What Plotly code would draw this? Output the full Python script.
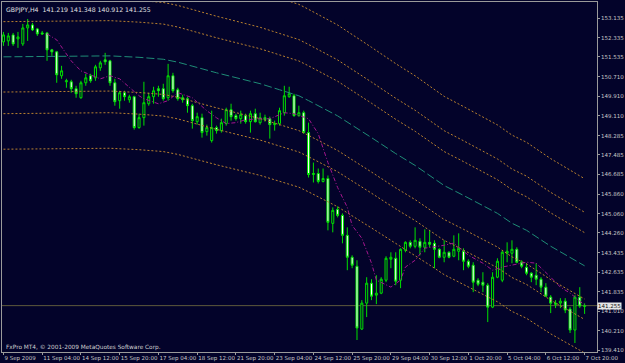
import plotly.graph_objects as go

# ---------------- data (GBPJPY H4, 9 Sep 2009 20:00 .. 7 Oct 2009 20:00) ----------------
BAR_INDEX = list(range(121))
OPEN = [152.158, 152.199, 152.446, 152.282, 152.075, 152.735, 152.859, 152.694, 152.529, 152.529,
        151.828, 151.746, 150.757, 150.509, 150.509, 150.221, 149.850, 150.468, 150.757, 150.674,
        151.086, 151.416, 151.375, 150.468, 149.726, 150.056, 149.767, 149.891, 148.613, 149.025,
        149.602, 149.891, 150.221, 150.221, 149.850, 150.757, 150.179, 149.850, 149.808, 149.520,
        148.860, 149.025, 148.448, 148.077, 148.613, 148.489, 148.778, 149.355, 149.108, 148.984,
        149.108, 148.860, 149.190, 148.819, 149.025, 148.984, 148.737, 148.778, 149.231, 149.891,
        149.932, 149.108, 149.231, 148.407, 146.676, 146.717, 146.388, 146.511, 144.656, 145.233,
        144.986, 144.161, 143.254, 142.883, 140.287, 141.358, 142.183, 141.688, 141.770, 142.306,
        143.172, 143.213, 142.306, 143.543, 143.872, 143.708, 143.914, 143.667, 143.872, 143.831,
        143.584, 143.254, 143.461, 143.296, 143.502, 143.502, 143.090, 142.925, 142.306, 142.224,
        142.100, 141.193, 142.430, 142.306, 143.419, 143.419, 143.584, 143.048, 142.842, 142.595,
        142.512, 142.348, 142.018, 141.606, 141.358, 141.358, 141.441, 141.111, 140.245, 141.606,
        141.219]
HIGH = [152.570, 152.529, 152.529, 152.570, 152.900, 153.106, 152.941, 152.735, 152.611, 152.570,
        151.869, 151.787, 151.169, 150.633, 150.592, 150.344, 150.550, 150.839, 150.839, 151.210,
        151.375, 151.705, 151.416, 150.633, 150.138, 150.138, 149.973, 149.932, 149.190, 150.509,
        150.056, 150.303, 150.344, 150.427, 151.251, 150.880, 150.262, 149.973, 149.891, 149.602,
        149.231, 149.190, 148.737, 149.314, 148.696, 148.984, 149.437, 149.602, 149.190, 149.314,
        149.190, 149.314, 149.396, 149.231, 149.149, 149.066, 148.902, 149.437, 150.344, 150.303,
        150.014, 149.520, 149.314, 148.819, 147.170, 146.923, 146.923, 146.635, 145.315, 145.357,
        145.068, 144.491, 143.337, 143.131, 141.482, 142.430, 142.348, 142.512, 142.430, 143.296,
        143.461, 143.461, 143.625, 143.914, 143.955, 144.491, 144.040, 144.409, 144.367, 143.955,
        143.625, 143.955, 143.502, 144.161, 144.243, 143.625, 143.172, 143.048, 142.389, 142.636,
        142.183, 142.636, 143.213, 143.543, 143.872, 143.955, 143.667, 143.131, 143.007, 142.636,
        143.007, 142.430, 142.183, 141.688, 141.482, 141.564, 141.564, 141.193, 141.688, 142.018,
        141.348]
LOW = [151.993, 151.993, 151.993, 151.911, 151.993, 152.199, 152.611, 152.405, 152.446, 151.375,
       151.581, 150.468, 150.633, 150.262, 150.056, 149.850, 149.808, 150.344, 150.468, 150.550,
       150.963, 151.210, 150.344, 149.520, 149.396, 149.726, 149.644, 148.531, 148.572, 148.696,
       149.520, 149.602, 149.891, 149.726, 149.726, 150.056, 149.726, 149.644, 149.231, 148.572,
       148.737, 148.201, 148.283, 147.995, 148.366, 148.407, 148.696, 148.902, 148.902, 148.778,
       148.778, 148.407, 148.819, 148.737, 148.860, 148.160, 148.489, 148.696, 149.108, 149.850,
       149.066, 149.066, 148.366, 146.552, 146.346, 146.305, 146.346, 144.367, 144.285, 144.903,
       143.831, 142.719, 142.801, 139.833, 140.245, 140.781, 141.482, 141.317, 141.729, 142.224,
       142.801, 142.100, 141.977, 143.461, 143.625, 143.625, 143.337, 143.461, 143.667, 142.801,
       143.213, 143.048, 143.213, 143.254, 143.131, 142.719, 142.801, 141.812, 142.059, 141.812,
       140.575, 141.152, 142.389, 142.224, 143.048, 143.007, 143.007, 142.801, 142.512, 142.224,
       142.100, 141.812, 141.606, 140.946, 141.152, 141.152, 140.946, 140.122, 139.709, 141.152,
       140.912]
CLOSE = [152.446, 152.405, 152.075, 152.364, 152.735, 152.859, 152.653, 152.488, 152.488, 151.828,
         151.746, 150.798, 150.963, 150.550, 150.221, 150.014, 150.468, 150.674, 150.550, 151.128,
         151.292, 151.334, 150.468, 149.685, 150.056, 149.891, 149.891, 148.613, 149.025, 149.644,
         149.891, 150.138, 150.138, 149.808, 150.757, 150.138, 149.808, 149.767, 149.520, 148.902,
         149.066, 148.407, 148.613, 148.613, 148.489, 148.819, 149.355, 149.066, 148.984, 149.149,
         148.860, 149.190, 148.860, 149.025, 148.943, 148.737, 148.778, 149.314, 149.932, 150.014,
         149.108, 149.231, 148.407, 146.676, 146.717, 146.388, 146.511, 144.697, 145.192, 144.986,
         144.161, 143.254, 142.925, 140.328, 141.358, 142.183, 141.647, 141.770, 142.348, 143.213,
         143.254, 142.265, 143.584, 143.872, 143.708, 143.955, 143.667, 143.872, 143.790, 143.584,
         143.254, 143.461, 143.254, 143.584, 143.625, 143.090, 142.883, 142.224, 142.141, 142.100,
         141.193, 142.430, 143.090, 143.461, 143.502, 143.584, 143.048, 142.883, 142.595, 142.430,
         142.348, 142.018, 141.647, 141.358, 141.317, 141.441, 141.070, 140.245, 141.606, 141.235,
         141.255]

# long moving average (teal) read at sampled bars
MA_X = [0, 8, 22, 28, 33, 36, 40, 44, 49, 53, 57, 61, 63, 69, 76, 81, 85, 88, 91, 95, 98, 102, 105, 108, 113, 120]
MA_VALUES = [151.54, 151.55, 151.58, 151.52, 151.44, 151.32, 151.09, 150.88, 150.63, 150.43, 150.18, 149.93,
             149.73, 149.10, 148.20, 147.54, 147.05, 146.63, 146.22, 145.81, 145.48, 145.07, 144.66, 144.37,
             143.71, 142.90]
ENVELOPE_PCT = [0.0096, 0.0155, 0.0252]

# short moving average (magenta) read at sampled bars
FAST_X = [9, 11, 14, 16, 20, 22, 24, 26, 28, 29, 32, 34, 36, 39, 42, 44, 46, 48, 50, 53, 55, 58, 60, 63,
          65, 67, 69, 71, 72, 74, 76, 77, 80, 82, 83, 85, 87, 91, 93, 96, 99, 101, 103, 108, 110, 113,
          115, 117, 120]
FAST_VALUES = [152.49, 152.24, 151.37, 150.96, 150.63, 150.76, 150.63, 150.26, 149.93, 149.81, 149.60,
               149.73, 150.06, 149.85, 149.31, 149.02, 148.78, 148.82, 148.94, 148.98, 148.98, 149.23,
               149.19, 148.98, 148.36, 147.17, 146.14, 145.32, 144.57, 144.04, 143.01, 142.31, 142.02,
               142.31, 142.85, 143.13, 143.63, 143.75, 143.84, 143.34, 143.01, 142.72, 142.85, 143.05,
               143.01, 142.43, 142.02, 141.77, 141.28]

X_TICK_POS = [0, 8, 16, 24, 32, 40, 48, 56, 64, 72, 80, 88, 96, 104, 112, 120]
X_TICK_TEXT = ["9 Sep 2009", "11 Sep 04:00", "14 Sep 12:00", "15 Sep 20:00", "17 Sep 04:00",
               "18 Sep 12:00", "21 Sep 20:00", "23 Sep 04:00", "24 Sep 12:00", "25 Sep 20:00",
               "29 Sep 04:00", "30 Sep 12:00", "1 Oct 20:00", "5 Oct 04:00", "6 Oct 12:00", "7 Oct 20:00"]
Y_TICKS = [153.135, 152.335, 151.535, 150.710, 149.910, 149.110, 148.285, 147.485, 146.685,
           145.860, 145.060, 144.260, 143.435, 142.635, 141.835, 141.010, 140.210, 139.410]
Y_TICK_TEXT = ["%.3f" % v for v in Y_TICKS]

SYMBOL_TITLE = "GBPJPY,H4  141.219 141.348 140.912 141.255"
COPYRIGHT = "FxPro MT4, © 2001-2009 MetaQuotes Software Corp."
LAST_PRICE = 141.255

# ---------------- styling ----------------
BG = "#03032A"
CANDLE_GREEN = "#00E000"
AXIS_COL = "#9A9A9A"
TEXT_COL = "#C8C8C8"
FONT = "DejaVu Sans"

fig = go.Figure()

# envelopes (orange dotted)
for p in ENVELOPE_PCT:
    for sgn in (1, -1):
        fig.add_trace(go.Scatter(
            x=MA_X, y=[v * (1 + sgn * p) for v in MA_VALUES], mode="lines",
            line=dict(color="#B8802E", width=1, dash="2px,2px"),
            hoverinfo="skip", showlegend=False))

# teal MA
fig.add_trace(go.Scatter(
    x=MA_X, y=MA_VALUES, mode="lines",
    line=dict(color="#1E8C76", width=1, dash="8px,3px"),
    hoverinfo="skip", showlegend=False))

# candles
fig.add_trace(go.Candlestick(
    x=BAR_INDEX, open=OPEN, high=HIGH, low=LOW, close=CLOSE,
    increasing=dict(line=dict(color=CANDLE_GREEN, width=1), fillcolor=BG),
    decreasing=dict(line=dict(color=CANDLE_GREEN, width=1), fillcolor="#FFFFFF"),
    whiskerwidth=0, hoverinfo="skip", showlegend=False))

# magenta fast MA
fig.add_trace(go.Scatter(
    x=FAST_X, y=FAST_VALUES, mode="lines",
    line=dict(color="#A4168E", width=1, dash="4px,2px,1px,2px"),
    hoverinfo="skip", showlegend=False))

# last price line
fig.add_hline(y=LAST_PRICE, line=dict(color="#5E5A3C", width=1), layer="below")

fig.update_layout(
    width=625, height=363,
    margin=dict(l=1, r=22, t=1, b=11),
    paper_bgcolor=BG, plot_bgcolor=BG,
    boxgap=0.4,
    font=dict(family=FONT, size=5.5, color=TEXT_COL),
    xaxis=dict(
        range=[-0.3, 122.56], showgrid=False, zeroline=False,
        showline=True, mirror=True, linecolor=AXIS_COL, linewidth=1,
        tickvals=X_TICK_POS, ticktext=X_TICK_TEXT, tickangle=0,
        ticks="outside", ticklen=2, tickcolor=AXIS_COL,
        ticklabelposition="outside right", ticklabelstandoff=0,
        tickfont=dict(family=FONT, size=5.5, color=TEXT_COL),
        rangeslider=dict(visible=False), fixedrange=True,
    ),
    yaxis=dict(
        range=[139.338, 153.807], side="right", showgrid=False, zeroline=False,
        showline=True, mirror=True, linecolor=AXIS_COL, linewidth=1,
        tickvals=Y_TICKS, ticktext=Y_TICK_TEXT,
        ticks="outside", ticklen=2, tickcolor=AXIS_COL,
        tickfont=dict(family=FONT, size=5.5, color=TEXT_COL),
        fixedrange=True,
    ),
    annotations=[
        dict(text=SYMBOL_TITLE, xref="paper", yref="paper", x=0.004, y=0.995,
             xanchor="left", yanchor="top", showarrow=False,
             font=dict(family=FONT, size=6.2, color="#E0E0E0")),
        dict(text=COPYRIGHT, xref="paper", yref="paper", x=0.004, y=0.014,
             xanchor="left", yanchor="middle", showarrow=False,
             font=dict(family=FONT, size=5.8, color="#D0D0D0")),
        dict(text="%.3f" % LAST_PRICE, xref="paper", yref="y", x=1.0, y=LAST_PRICE,
             xanchor="left", yanchor="middle", showarrow=False, bgcolor="#E6E6E6",
             borderpad=0, font=dict(family=FONT, size=5.5, color="#101010")),
    ],
)

fig.write_html("out.html")
